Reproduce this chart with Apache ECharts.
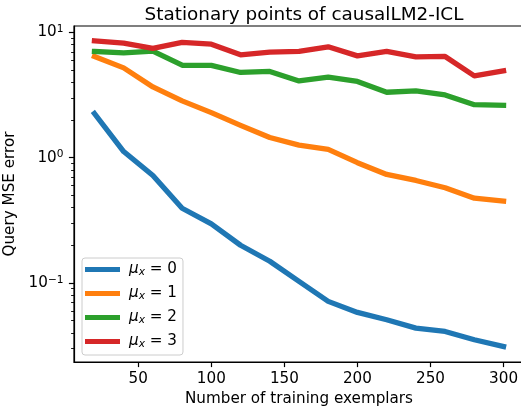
<!DOCTYPE html>
<html>
<head>
<meta charset="utf-8">
<script src="https://cdn.jsdelivr.net/npm/echarts@6/dist/echarts.min.js"></script>
<style>
html,body{margin:0;padding:0;background:#fff;}
#c{width:521px;height:406px;}
</style>
</head>
<body>
<div id="c"></div>
<script>
const exemplars = [20, 40, 60, 80, 100, 120, 140, 160, 180, 200, 220, 240, 260, 280, 300];
const mu0 = [2.25, 1.12, 0.72, 0.395, 0.296, 0.200, 0.149, 0.103, 0.0713, 0.0582, 0.0509, 0.0436, 0.0410, 0.0352, 0.0311];
const mu1 = [6.43, 5.21, 3.67, 2.84, 2.29, 1.81, 1.45, 1.26, 1.165, 0.912, 0.735, 0.658, 0.575, 0.475, 0.450];
const mu2 = [7.05, 6.87, 7.10, 5.47, 5.45, 4.79, 4.88, 4.10, 4.39, 4.06, 3.33, 3.41, 3.17, 2.65, 2.62];
const mu3 = [8.57, 8.20, 7.45, 8.32, 8.06, 6.62, 6.96, 7.05, 7.67, 6.50, 7.05, 6.38, 6.43, 4.50, 4.93];
const seriesNames = ['μx = 0', 'μx = 1', 'μx = 2', 'μx = 3'];
const seriesData = [mu0, mu1, mu2, mu3];
const colors = ['#1f77b4', '#ff7f0e', '#2ca02c', '#d62728'];
const xTicks = [50, 100, 150, 200, 250, 300];
const yMajorTicks = [0.1, 1, 10];
const yMinorTicks = [0.03, 0.04, 0.05, 0.06, 0.07, 0.08, 0.09, 0.2, 0.3, 0.4, 0.5, 0.6, 0.7, 0.8, 0.9, 2, 3, 4, 5, 6, 7, 8, 9];
const yLabelExp = {'0.1': '−1', '1': '0', '10': '1'};

const FONT = 'DejaVu Sans';
const FS = 15.2;
const FSS = 10.6;
const chart = echarts.init(document.getElementById('c'), null, {renderer: 'canvas'});

const series = seriesNames.map((n, i) => ({
  name: n,
  type: 'line',
  data: exemplars.map((x, j) => [x, seriesData[i][j]]),
  showSymbol: false,
  symbol: 'none',
  lineStyle: {width: 5.3, color: colors[i], cap: 'square', join: 'round'},
  itemStyle: {color: colors[i]},
  animation: false
}));

chart.setOption({
  animation: false,
  color: colors,
  title: {
    text: 'Stationary points of causalLM2-ICL',
    left: 299, top: 1, textAlign: 'center',
    textStyle: {fontFamily: FONT, fontSize: 18.4, fontWeight: 'normal', color: '#000'}
  },
  grid: {left: 74, right: -3, top: 26, bottom: 44, show: true, borderColor: '#000', borderWidth: 1.2,
         backgroundColor: 'transparent', containLabel: false, outerBoundsMode: 'none'},
  legend: {
    orient: 'vertical',
    left: 82, top: 258,
    icon: 'rect',
    itemWidth: 35, itemHeight: 5,
    itemGap: 8,
    padding: [4, 6, 5, 3],
    backgroundColor: 'rgba(255,255,255,0.8)',
    borderColor: '#cccccc', borderWidth: 1, borderRadius: 3,
    data: seriesNames,
    formatter: function (name) {
      const num = name.split('= ')[1];
      return '{m|μ}{s|x}{n| = ' + num + '}';
    },
    textStyle: {
      fontFamily: FONT, fontSize: FS, color: '#000',
      rich: {
        m: {fontFamily: FONT, fontSize: FS, fontStyle: 'italic', color: '#000', padding: [0, 0, 0, 4]},
        s: {fontFamily: FONT, fontSize: FSS, fontStyle: 'italic', color: '#000', verticalAlign: 'bottom', padding: [6, 0, 0, 0]},
        n: {fontFamily: FONT, fontSize: FS, color: '#000'}
      }
    }
  },
  xAxis: {
    type: 'value', min: 6, max: 314,
    name: 'Number of training exemplars', nameLocation: 'middle', nameGap: 28,
    nameTextStyle: {fontFamily: FONT, fontSize: FS, color: '#000'},
    axisLine: {show: true, lineStyle: {color: '#000', width: 1.2}},
    axisTick: {show: true, inside: false, length: 5.1, lineStyle: {color: '#000', width: 1.2}, customValues: xTicks},
    axisLabel: {show: true, margin: 9.5, fontFamily: FONT, fontSize: FS, color: '#000', customValues: xTicks},
    splitLine: {show: false}
  },
  yAxis: [{
    type: 'log', logBase: 10, min: 0.0234, max: 11.25,
    name: 'Query MSE error', nameLocation: 'middle', nameGap: 49,
    nameTextStyle: {fontFamily: FONT, fontSize: FS, color: '#000'},
    axisLine: {show: true, lineStyle: {color: '#000', width: 1.2}},
    axisTick: {show: true, inside: false, length: 5.1, lineStyle: {color: '#000', width: 1.2}, customValues: yMajorTicks},
    axisLabel: {
      show: true, margin: 10.5, customValues: yMajorTicks,
      formatter: function (v) {
        const key = String(+v.toPrecision(3));
        return '{b|10}{e|' + (yLabelExp[key] || '') + '}';
      },
      rich: {
        b: {fontFamily: FONT, fontSize: FS, color: '#000'},
        e: {fontFamily: FONT, fontSize: FSS, color: '#000', verticalAlign: 'top', padding: [0, 0, 6, 0]}
      }
    },
    splitLine: {show: false},
    minorTick: {show: false}
  }, {
    type: 'log', logBase: 10, min: 0.0234, max: 11.25,
    position: 'left',
    axisLine: {show: false},
    axisTick: {show: true, inside: false, length: 2.9, lineStyle: {color: '#000', width: 0.9}, customValues: yMinorTicks},
    axisLabel: {show: false},
    splitLine: {show: false}
  }],
  series: series
});
</script>
</body>
</html>
